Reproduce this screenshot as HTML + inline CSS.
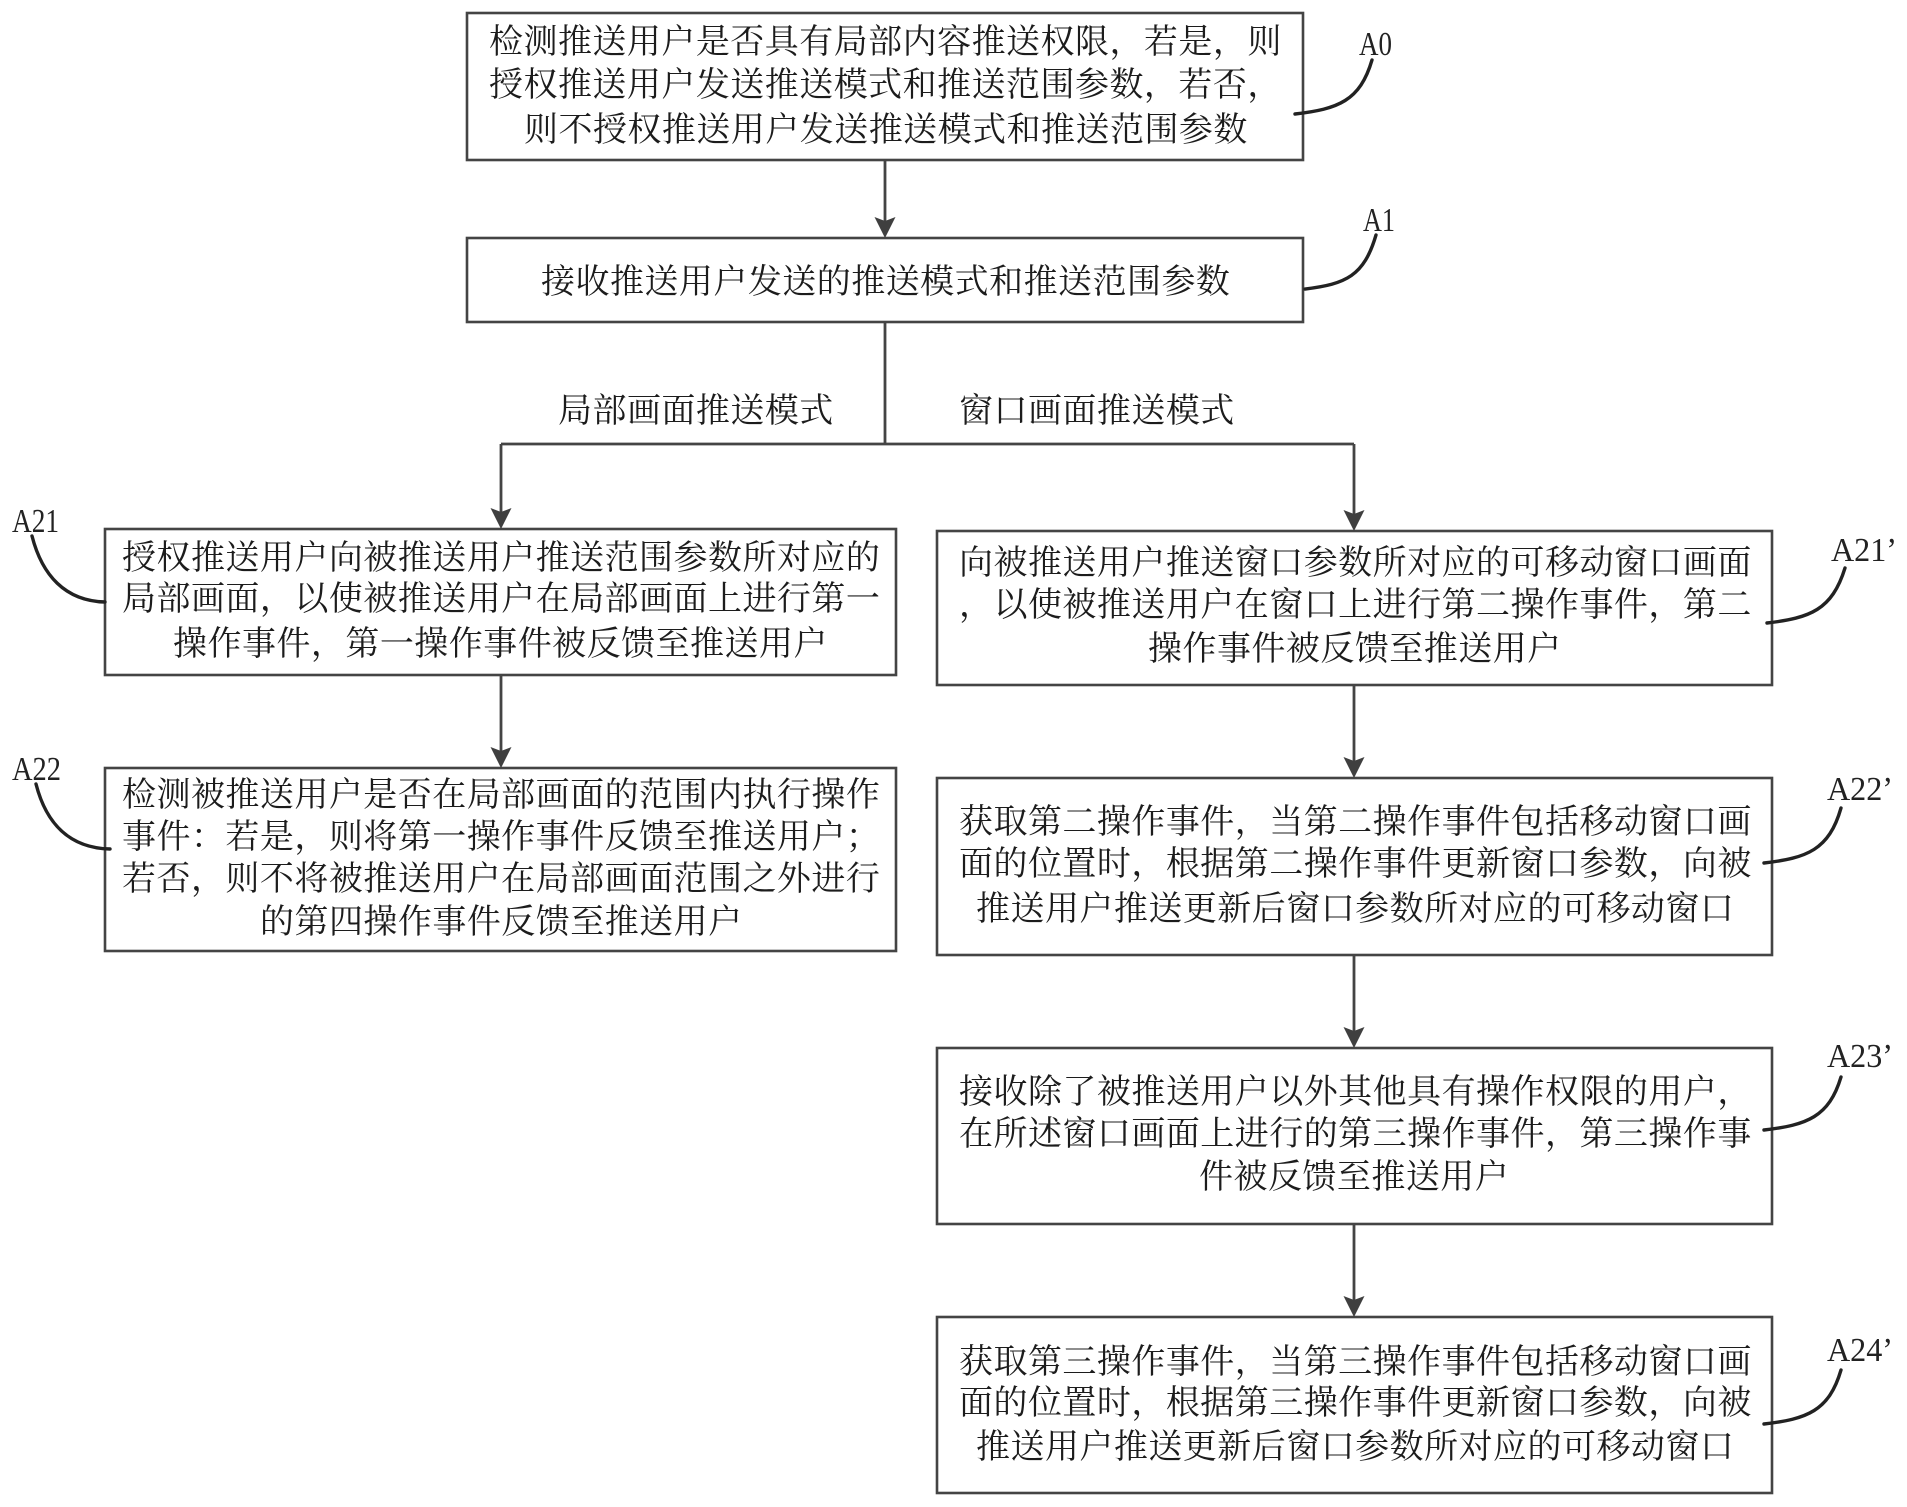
<!DOCTYPE html>
<html lang="zh"><head><meta charset="utf-8"><title>Flowchart</title>
<style>
html,body{margin:0;padding:0;background:#fff}
svg{display:block}
.t{font-family:"Liberation Serif","Noto Serif CJK SC",serif;font-size:34px;letter-spacing:.47px;fill:#1c1c1c}
.l{font-family:"Liberation Serif",serif;font-size:34px;fill:#222}
.b{fill:#fff;stroke:#444;stroke-width:2.6}
.c{fill:none;stroke:#444;stroke-width:2.8}
.k{fill:none;stroke:#222;stroke-width:3.4;stroke-linecap:round}
.a{fill:#3f3f3f}
</style></head><body>
<svg width="1907" height="1507" viewBox="0 0 1907 1507" xmlns="http://www.w3.org/2000/svg">
<rect width="1907" height="1507" fill="#fff"/>
<!-- boxes -->
<rect class="b" x="467" y="13" width="836" height="147"/>
<rect class="b" x="467" y="238" width="836" height="84"/>
<rect class="b" x="105" y="529" width="791" height="146"/>
<rect class="b" x="105" y="768" width="791" height="183"/>
<rect class="b" x="937" y="531" width="835" height="154"/>
<rect class="b" x="937" y="778" width="835" height="177"/>
<rect class="b" x="937" y="1048" width="835" height="176"/>
<rect class="b" x="937" y="1317" width="835" height="176"/>
<!-- connectors -->
<path class="c" d="M885 160V222M885 322V444M501 444H1354M501 444V512M1354 444V514M501 675V751M1354 685V762M1354 955V1032M1354 1224V1301"/>
<polygon class="a" points="885,238 874.500,217 885,221 895.500,217"/>
<polygon class="a" points="501,529 490.500,508 501,512 511.500,508"/>
<polygon class="a" points="1354,531 1343.500,510 1354,514 1364.500,510"/>
<polygon class="a" points="501,768 490.500,747 501,751 511.500,747"/>
<polygon class="a" points="1354,778 1343.500,757 1354,761 1364.500,757"/>
<polygon class="a" points="1354,1048 1343.500,1027 1354,1031 1364.500,1027"/>
<polygon class="a" points="1354,1317 1343.500,1296 1354,1300 1364.500,1296"/>
<!-- text -->
<text class="t" x="489" y="53">检测推送用户是否具有局部内容推送权限，若是，则</text>
<text class="t" x="489" y="96">授权推送用户发送推送模式和推送范围参数，若否，</text>
<text class="t" x="524" y="141">则不授权推送用户发送推送模式和推送范围参数</text>
<text class="t" x="541" y="293">接收推送用户发送的推送模式和推送范围参数</text>
<text class="t" x="558" y="422">局部画面推送模式</text>
<text class="t" x="959" y="422">窗口画面推送模式</text>
<text class="t" x="122" y="569">授权推送用户向被推送用户推送范围参数所对应的</text>
<text class="t" x="122" y="610">局部画面，以使被推送用户在局部画面上进行第一</text>
<text class="t" x="173" y="655">操作事件，第一操作事件被反馈至推送用户</text>
<text class="t" x="122" y="806">检测被推送用户是否在局部画面的范围内执行操作</text>
<text class="t" x="122" y="848">事件：若是，则将第一操作事件反馈至推送用户；</text>
<text class="t" x="122" y="890">若否，则不将被推送用户在局部画面范围之外进行</text>
<text class="t" x="260" y="933">的第四操作事件反馈至推送用户</text>
<text class="t" x="959" y="574">向被推送用户推送窗口参数所对应的可移动窗口画面</text>
<text class="t" x="959" y="616">，以使被推送用户在窗口上进行第二操作事件，第二</text>
<text class="t" x="1148" y="660">操作事件被反馈至推送用户</text>
<text class="t" x="959" y="833">获取第二操作事件，当第二操作事件包括移动窗口画</text>
<text class="t" x="959" y="875">面的位置时，根据第二操作事件更新窗口参数，向被</text>
<text class="t" x="976" y="920">推送用户推送更新后窗口参数所对应的可移动窗口</text>
<text class="t" x="959" y="1103">接收除了被推送用户以外其他具有操作权限的用户，</text>
<text class="t" x="959" y="1145">在所述窗口画面上进行的第三操作事件，第三操作事</text>
<text class="t" x="1199" y="1188">件被反馈至推送用户</text>
<text class="t" x="959" y="1373">获取第三操作事件，当第三操作事件包括移动窗口画</text>
<text class="t" x="959" y="1414">面的位置时，根据第三操作事件更新窗口参数，向被</text>
<text class="t" x="976" y="1458">推送用户推送更新后窗口参数所对应的可移动窗口</text>
<!-- reference labels -->
<text class="l" x="1359" y="55" textLength="33" lengthAdjust="spacingAndGlyphs">A0</text>
<text class="l" x="1363" y="231" textLength="32" lengthAdjust="spacingAndGlyphs">A1</text>
<text class="l" x="12" y="532" textLength="47" lengthAdjust="spacingAndGlyphs">A21</text>
<text class="l" x="12" y="780" textLength="49" lengthAdjust="spacingAndGlyphs">A22</text>
<text class="l" x="1831" y="561" textLength="66" lengthAdjust="spacingAndGlyphs">A21’</text>
<text class="l" x="1827" y="800" textLength="66" lengthAdjust="spacingAndGlyphs">A22’</text>
<text class="l" x="1827" y="1067" textLength="66" lengthAdjust="spacingAndGlyphs">A23’</text>
<text class="l" x="1827" y="1361" textLength="66" lengthAdjust="spacingAndGlyphs">A24’</text>
<!-- leader curves -->
<path class="k" d="M1295 114C1338 109 1360 101 1372 60"/>
<path class="k" d="M1305 289C1346 284 1364 276 1376 235"/>
<path class="k" d="M32 536C42 575 65 601 105 602"/>
<path class="k" d="M36 784C46 823 69 848 110 849"/>
<path class="k" d="M1767 623C1810 618 1832 610 1845 568"/>
<path class="k" d="M1764 863C1807 858 1829 850 1841 808"/>
<path class="k" d="M1764 1130C1807 1125 1829 1117 1841 1077"/>
<path class="k" d="M1764 1424C1807 1419 1829 1411 1841 1370"/>
</svg>
</body></html>
